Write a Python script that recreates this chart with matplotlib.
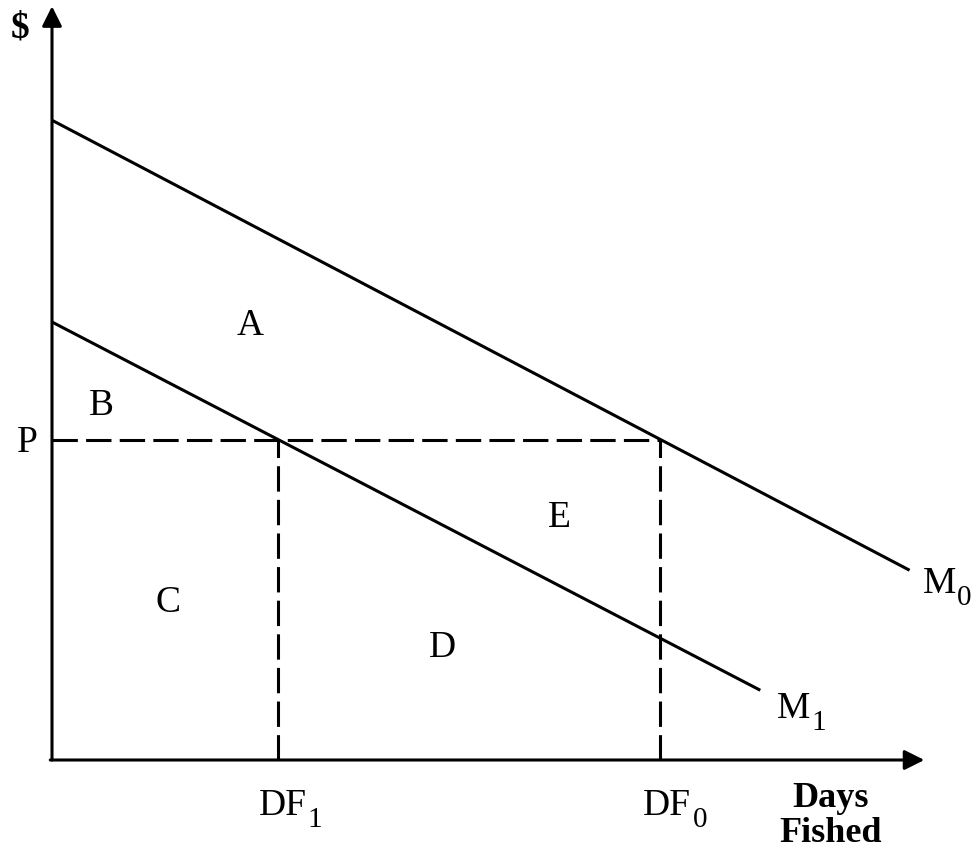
import matplotlib.pyplot as plt

# line end points (days fished, $)
m0_x = [0.0, 9.88]
m0_y = [8.53, 2.53]
m1_x = [0.0, 8.16]
m1_y = [5.84, 0.93]
price = 4.27
df1 = 2.6
df0 = 7.0

area_labels = ["A", "B", "C", "D", "E"]
area_x = [2.28, 0.565, 1.34, 4.5, 5.85]
area_y = [5.67, 4.6, 1.97, 1.37, 3.11]

plt.rcParams['font.family'] = ['Liberation Serif', 'DejaVu Serif']

fig = plt.figure(figsize=(9.79, 8.48), dpi=100)
ax = fig.add_axes([52 / 979, 88 / 848, 868 / 979, 750 / 848])
ax.set_xlim(0, 10)
ax.set_ylim(0, 10)
ax.axis('off')

lw = 2.2
# axes with arrows
ax.annotate('', xy=(0, 10.05), xytext=(0, 0),
            arrowprops=dict(arrowstyle='-|>', lw=lw, color='black',
                            mutation_scale=30, shrinkA=0, shrinkB=0),
            annotation_clip=False)
ax.annotate('', xy=(10.05, 0), xytext=(-0.02, 0),
            arrowprops=dict(arrowstyle='-|>', lw=lw, color='black',
                            mutation_scale=30, shrinkA=0, shrinkB=0),
            annotation_clip=False)

ax.plot(m0_x, m0_y, color='black', lw=lw, solid_capstyle='butt', clip_on=False)
ax.plot(m1_x, m1_y, color='black', lw=lw, solid_capstyle='butt', clip_on=False)

dash = (8.3, 2.7)
ax.plot([0, df0], [price, price], color='black', lw=lw, dashes=dash)
ax.plot([df1, df1], [0, price], color='black', lw=lw, dashes=dash)
ax.plot([df0, df0], [0, price], color='black', lw=lw, dashes=dash)

fs = 27
for lab, x, y in zip(area_labels, area_x, area_y):
    ax.text(x, y, lab, fontsize=fs, ha='center', va='baseline')


def sub_label(x, y, main, sub, width_em):
    # main text plus a lowered subscript, like the scanned figure
    ax.text(x, y, main, fontsize=fs, ha='left', va='baseline')
    ax.annotate(sub, xy=(x, y), xytext=(width_em * fs + 1, -9),
                textcoords='offset points', fontsize=21,
                ha='left', va='baseline', annotation_clip=False)


ax.text(-0.37, 9.64, '$', fontsize=fs, fontweight='bold', ha='center', va='baseline')
ax.text(-0.29, 4.11, 'P', fontsize=fs, ha='center', va='baseline')
sub_label(10.03, 2.23, 'M', '0', 0.889)
sub_label(8.35, 0.56, 'M', '1', 0.889)
sub_label(2.38, -0.73, 'DF', '1', 1.278)
sub_label(6.81, -0.73, 'DF', '0', 1.278)
ax.text(8.97, -0.63, 'Days', fontsize=26, fontweight='bold', ha='center', va='baseline')
ax.text(8.97, -1.09, 'Fished', fontsize=26, fontweight='bold', ha='center', va='baseline')

fig.savefig('out.png', dpi=100)
